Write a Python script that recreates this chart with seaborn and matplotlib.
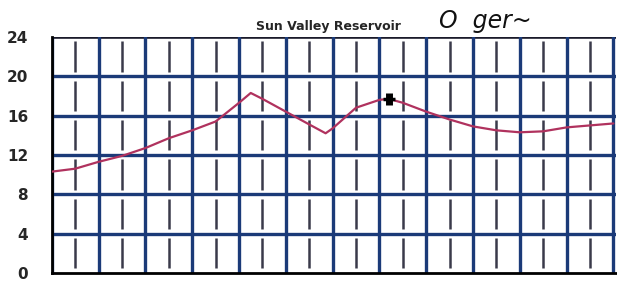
import seaborn as sns
import matplotlib.pyplot as plt
import pandas as pd

# reservoir level (x in half-grid steps)
step = [0, 1, 2, 3, 4, 5, 6, 7, 8, 8.5, 9, 10, 11, 11.7, 12, 13, 14, 14.4,
        15, 16, 17, 18, 19, 20, 21, 22, 23, 24]
level = [10.3, 10.6, 11.3, 11.9, 12.7, 13.7, 14.5, 15.4, 17.3, 18.3, 17.7,
         16.4, 15.1, 14.2, 14.7, 16.8, 17.6, 17.7, 17.3, 16.4, 15.6, 14.9,
         14.5, 14.3, 14.4, 14.8, 15.0, 15.2]
yticks = [0, 4, 8, 12, 16, 20, 24]
mark_x = [14.4]
mark_y = [17.7]

df = pd.DataFrame({'step': step, 'level': level})

sns.set_style('white')
plt.rcParams['font.family'] = ['DejaVu Sans']

fig = plt.figure(figsize=(6.17, 2.84), dpi=100)
ax = fig.add_axes([0.084, 0.039, 0.914, 0.831])

navy = '#1b3a78'
# grid
for v in range(4, 24, 4):
    ax.axhline(v, color=navy, lw=2.4, zorder=1)
ax.axhline(24, color='#1a1a2a', lw=2.6, zorder=1)
for i in range(0, 25, 2):
    ax.axvline(i, color=navy, lw=2.4, zorder=1)
# minor verticals: one dash per cell, broken at the horizontal lines
for i in range(1, 25, 2):
    for v in range(0, 24, 4):
        ax.vlines(i, v + 0.45, v + 3.55, color='#3a3a4a', lw=1.8, zorder=1)

sns.lineplot(data=df, x='step', y='level', color='#b0325e', lw=1.6, ax=ax, zorder=3)
ax.plot(mark_x, mark_y, marker='|', ms=9, mew=5, color='black', zorder=4)
ax.plot(mark_x, mark_y, marker='_', ms=9, mew=2.5, color='black', zorder=4)

ax.set_xlim(0, 24.1)
ax.set_ylim(0, 24)
ax.set_xticks([])
ax.set_yticks(yticks)
ax.set_yticklabels([str(t) for t in yticks], fontweight='bold', fontsize=11)
ax.tick_params(axis='y', length=0, pad=17)
ax.set_xlabel('')
ax.set_ylabel('')
for s in ['top', 'right']:
    ax.spines[s].set_visible(False)
ax.spines['left'].set_color('black')
ax.spines['left'].set_linewidth(2)
ax.spines['bottom'].set_color('black')
ax.spines['bottom'].set_linewidth(2)

fig.text(0.533, 0.905, 'Sun Valley Reservoir', ha='center', va='center',
         fontsize=9, fontweight='bold',
         family=['Liberation Sans Narrow', 'DejaVu Sans'])
fig.text(0.712, 0.925, 'O  ger~', ha='left', va='center', fontsize=17,
         fontstyle='italic', color='#111111')

fig.savefig('out.png', dpi=100)
